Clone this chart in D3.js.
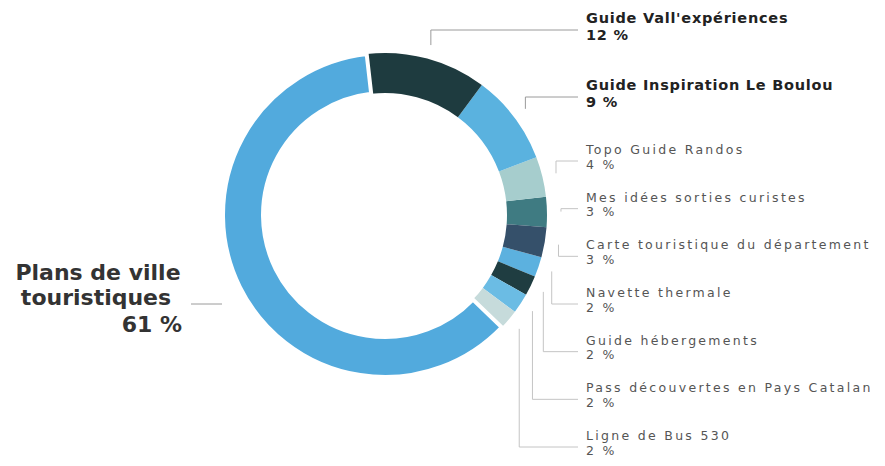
<!DOCTYPE html>
<html>
<head>
<meta charset="utf-8">
<script src="https://cdn.jsdelivr.net/npm/d3@7"></script>
<style>
  body { margin: 0; background: #fff; }
  svg { display: block; }
  .lbl { font-family: "DejaVu Sans", sans-serif; }
</style>
</head>
<body>
<div id="vis"></div>
<script>
// supports, in clockwise order starting from the top
var labels = ["Guide Vall'expériences", "Guide Inspiration Le Boulou", "Topo Guide Randos",
  "Mes idées sorties curistes", "Carte touristique du département", "Navette thermale",
  "Guide hébergements", "Pass découvertes en Pays Catalan", "Ligne de Bus 530",
  "Plans de ville touristiques"];
var values = [12, 9, 4, 3, 3, 2, 2, 2, 2, 61];
var colors = ['#1e3b3f', '#5ab2df', '#a6cdcd', '#3f7b82', '#35506a', '#5cb1df',
  '#1f3d41', '#6bbce4', '#c6dbdb', '#52aadd'];
var boldLabels = ["Guide Vall'expériences", "Guide Inspiration Le Boulou"];
var mainLabel = ['Plans de ville', 'touristiques'];

var width = 885;
var height = 466;
var center = { x: 385, y: 215 };
var outerR = 162;
var innerR = 122;
var startRot = -6.5 * Math.PI / 180;

var svg = d3.select('#vis').append('svg')
  .attr('width', width)
  .attr('height', height);

var data = labels.map(function (d, i) {
  return { name: d, value: values[i], color: colors[i] };
});

var pie = d3.pie()
  .sort(null)
  .value(function (d) { return d.value; })
  .startAngle(startRot)
  .endAngle(startRot + 2 * Math.PI);

var arcs = pie(data);

var arc = d3.arc().innerRadius(innerR).outerRadius(outerR);

var g = svg.append('g')
  .attr('transform', 'translate(' + center.x + ',' + center.y + ')');

// big slice drawn last with a white edge so it stands apart from the rest
g.selectAll('path')
  .data(arcs.slice().sort(function (a, b) { return a.value - b.value; }))
  .enter().append('path')
  .attr('d', arc)
  .attr('fill', function (d) { return d.data.color; })
  .attr('stroke', function (d) { return d.data.value > 50 ? '#fff' : 'none'; })
  .attr('stroke-width', 4);

// label rows on the right
var small = arcs.filter(function (d) { return d.value < 50; });
var boldY = d3.scalePoint().domain(boldLabels).range([23, 90]);
var restY = d3.scalePoint()
  .domain(small.map(function (d) { return d.data.name; })
    .filter(function (n) { return boldLabels.indexOf(n) < 0; }))
  .range([154, 440]);

var textX = 586;
var lineEnd = 578;
var leadR = outerR + 14;

small.forEach(function (d) {
  var isBold = boldLabels.indexOf(d.data.name) >= 0;
  var y = isBold ? boldY(d.data.name) : restY(d.data.name);
  var mid = (d.startAngle + d.endAngle) / 2;
  var px = center.x + leadR * Math.sin(mid);
  var py = center.y - leadR * Math.cos(mid);
  var ly = y + 7;

  svg.append('path')
    .attr('d', d3.line()([[px, py], [px, ly], [lineEnd, ly]]))
    .attr('fill', 'none')
    .attr('stroke', isBold ? '#9a9a9a' : '#c4c4c4')
    .attr('stroke-width', 1);

  var t = svg.append('text')
    .attr('class', 'lbl')
    .attr('x', textX)
    .attr('y', y)
    .attr('fill', isBold ? '#222' : '#555')
    .style('font-size', isBold ? '14.5px' : '12.5px')
    .style('font-weight', isBold ? 'bold' : 'normal')
    .style('letter-spacing', isBold ? '0.75px' : '2.3px');
  t.append('tspan').attr('x', textX).text(d.data.name);
  t.append('tspan').attr('x', textX).attr('dy', isBold ? 16.5 : 14.5)
    .text(d.data.value + ' %');
});

// big slice label on the left
var big = arcs.filter(function (d) { return d.value > 50; })[0];
var bigLineY = 304;
svg.append('line')
  .attr('x1', center.x - outerR - 32)
  .attr('x2', center.x - outerR - 1)
  .attr('y1', bigLineY)
  .attr('y2', bigLineY)
  .attr('stroke', '#9a9a9a')
  .attr('stroke-width', 1);

var lt = svg.append('text')
  .attr('class', 'lbl')
  .attr('fill', '#333')
  .style('font-size', '22px')
  .style('font-weight', 'bold')
  .attr('text-anchor', 'middle');
lt.append('tspan').attr('x', 98).attr('y', 280).text(mainLabel[0]);
lt.append('tspan').attr('x', 96).attr('y', 305).text(mainLabel[1]);
lt.append('tspan').attr('x', 182).attr('y', 332)
  .attr('text-anchor', 'end').text(big.data.value + ' %');
</script>
</body>
</html>
